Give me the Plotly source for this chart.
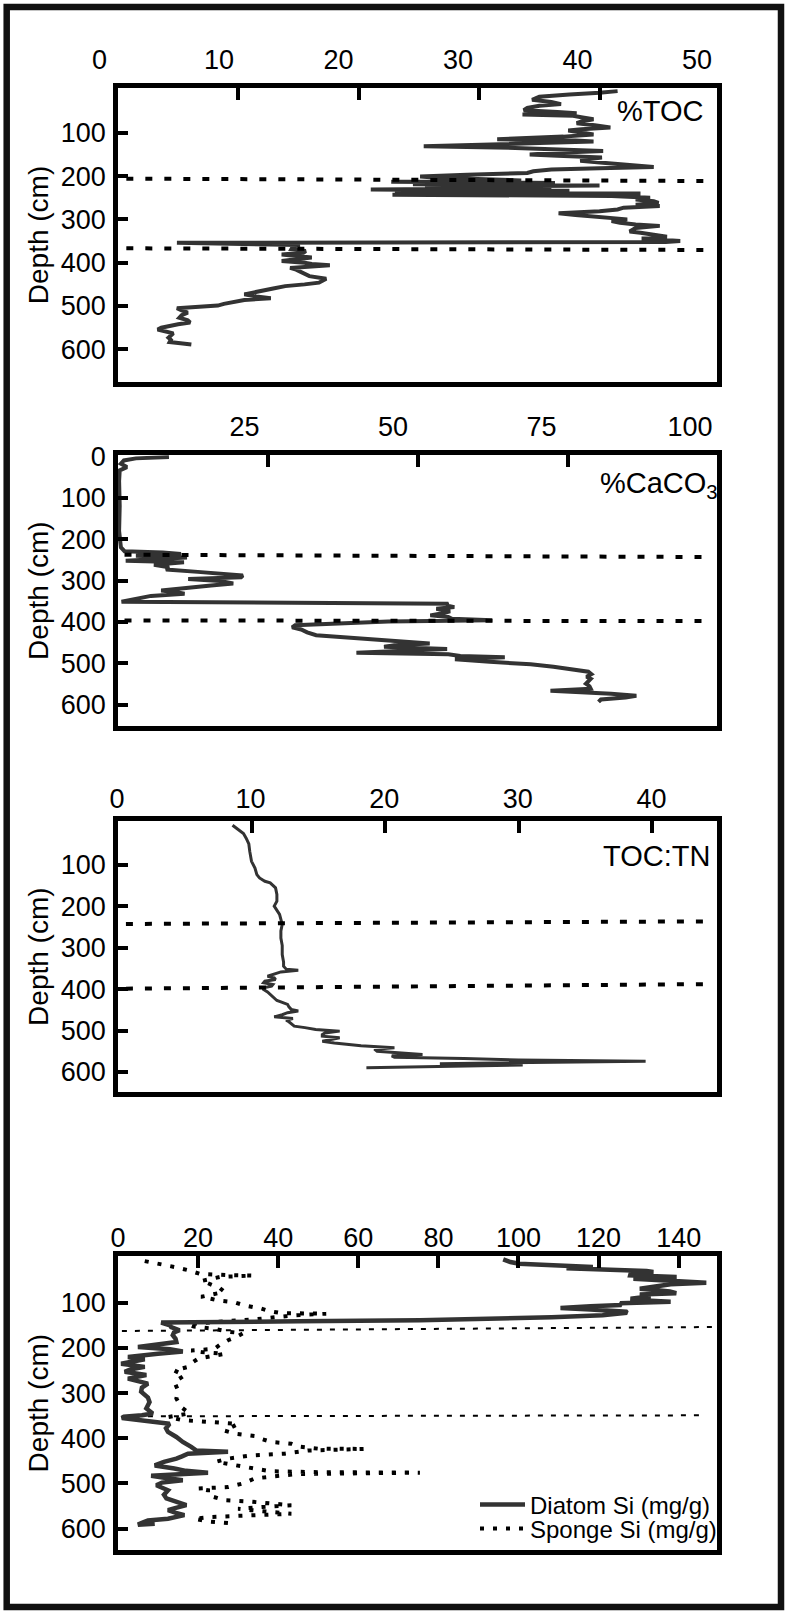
import plotly.graph_objects as go

W, H = 790, 1613
FONT = "Liberation Sans"
LINE_C = "#333333"

# ---------------- data ----------------
# Panel 1: %TOC
toc_depth = [4, 8, 12, 17, 24, 29, 34, 38, 43, 48, 52, 55, 58, 61, 65, 69, 74, 78, 83, 88,
             92, 95, 100, 104, 109, 113, 115, 118, 120, 124, 128, 131, 135, 139, 142, 146, 150,
             153, 157, 161, 165, 170, 175, 179, 182, 185, 189, 193, 197, 201, 204, 207, 210,
             213, 216, 219, 222, 225, 228, 231, 234, 237, 240, 243, 246, 250, 254, 258, 262,
             266, 269, 273, 277, 281, 286, 290, 294, 297, 300, 304, 308, 312, 315, 320, 324,
             328, 331, 336, 340, 344, 347, 350, 352, 354, 359, 364, 369, 373, 377, 381, 385,
             388, 392, 396, 400, 403, 406, 409, 412, 416, 420, 426, 431, 437, 442, 446, 450,
             454, 459, 463, 468, 473, 478, 482, 486, 491, 495, 499, 502, 505, 510, 515, 521,
             527, 533, 538, 542, 546, 550, 554, 558, 563, 568, 573, 578, 583, 586, 589]
toc_value = [41.5, 40.0, 37.5, 35.0, 34.4, 36.0, 36.8, 35.0, 34.0, 33.7, 36.5, 38.1, 33.6, 37.8,
             38.6, 39.5, 38.5, 38.1, 39.6, 40.9, 38.5, 37.4, 38.6, 39.5, 37.0, 34.0, 31.5, 38.0,
             39.5, 35.0, 30.0, 25.4, 33.0, 38.5, 40.3, 36.5, 34.2, 36.5, 40.2, 39.0, 38.4, 40.5,
             43.0, 44.5, 40.0, 36.0, 34.5, 34.0, 29.0, 25.1, 26.5, 31.0, 33.5, 22.7, 36.3, 24.5,
             40.0, 25.5, 36.0, 21.0, 37.5, 23.0, 43.4, 22.8, 41.0, 44.2, 43.0, 44.5, 44.9, 43.0,
             45.0, 42.0, 41.5, 40.0, 36.6, 38.0, 40.0, 41.0, 42.3, 41.0, 41.7, 43.0, 45.0, 43.0,
             42.8, 42.5, 43.4, 44.5, 45.6, 43.5, 45.0, 46.7, 45.5, 4.9, 15.1, 14.5, 14.4, 15.6,
             15.4, 13.6, 15.0, 16.1, 14.8, 13.6, 15.5, 16.1, 17.6, 15.0, 14.3, 14.8, 15.1, 15.5,
             15.9, 17.3, 17.0, 16.7, 15.5, 13.9, 13.0, 12.2, 11.2, 10.5, 11.5, 12.7, 10.5, 9.3,
             8.8, 8.3, 6.5, 4.9, 5.3, 5.8, 5.3, 5.1, 5.8, 6.0, 5.0, 4.2, 3.6, 3.3, 3.9, 4.6, 4.4,
             4.2, 4.4, 4.3, 5.2, 6.1]

# Panel 2: %CaCO3
caco3_depth = [2, 5, 10, 18, 26, 34, 60, 120, 180, 220, 229, 232, 236, 240, 244, 248, 252, 256,
               262, 268, 273, 279, 284, 288, 292, 296, 301, 307, 312, 316, 321, 324, 329, 332,
               337, 344, 348, 351, 356, 360, 364, 368, 374, 379, 384, 388, 392, 396, 399, 408,
               413, 418, 425, 432, 436, 440, 446, 452, 456, 460, 465, 470, 474, 478, 482, 485,
               490, 496, 502, 508, 513, 520, 526, 532, 537, 543, 549, 555, 561, 566, 570, 573,
               578, 582, 587, 593]
caco3_value = [8.5, 3.0, 1.0, 0.5, 1.5, 0.3, 0.2, 0.3, 0.2, 0.5, 1.1, 7.5, 10.5, 3.0, 11.5, 5.5,
               1.3, 11.0, 6.0, 8.5, 8.0, 13.3, 17.5, 20.8, 20.5, 11.7, 17.0, 19.2, 15.5, 12.5,
               8.5, 7.2, 10.0, 11.1, 5.5, 3.4, 1.5, 0.6, 55.0, 54.7, 56.0, 53.0, 55.3, 54.0,
               52.0, 55.0, 55.6, 62.3, 45.0, 29.5, 29.0, 30.5, 31.5, 33.0, 37.0, 40.6, 44.5,
               51.9, 46.0, 44.3, 54.8, 48.0, 39.7, 55.0, 57.0, 64.4, 56.1, 61.9, 68.7, 72.5, 75.4,
               78.3, 78.8, 78.0, 78.7, 78.2, 77.9, 78.5, 78.7, 72.0, 80.0, 82.1, 86.3, 84.5, 80.4,
               80.0]

# Panel 3: TOC:TN
tn_depth = [5, 10, 16, 25, 36, 50, 68, 80, 92, 108, 124, 132, 140, 144, 156, 172, 188, 200, 210,
            220, 232, 244, 260, 277, 295, 317, 335, 345, 352, 354.5, 358.6, 364, 369, 373, 377,
            381, 385, 389, 393, 397, 401, 407, 413, 420, 427.6, 432, 437, 443, 449, 453, 457,
            462, 467, 471, 475, 479, 484, 489.5, 493, 497.5, 501.5, 506, 510, 513.6, 517.7, 522,
            526, 530, 533.6, 537, 541.7, 545, 550, 554, 558, 561, 564.4, 567.6, 571, 574, 576,
            578.5, 580, 583.4, 586, 589.8]
tn_value = [8.58, 8.8, 9.1, 9.4, 9.6, 9.8, 9.87, 9.95, 10.0, 10.26, 10.4, 10.6, 11.0, 11.4, 11.8,
            11.9, 11.9, 11.7, 11.9, 12.1, 12.2, 12.3, 12.2, 12.2, 12.3, 12.3, 12.4, 12.4, 12.6,
            13.5, 12.2, 11.6, 11.2, 11.7, 11.8, 11.0, 10.9, 11.6, 11.5, 10.9, 10.9, 11.2, 11.4,
            11.6, 11.9, 12.3, 12.7, 12.8, 12.97, 13.5, 12.7, 12.3, 11.7, 13.1, 12.6, 12.8, 13.0,
            13.2, 14.0, 14.8, 16.6, 15.5, 15.3, 15.3, 16.6, 15.8, 15.3, 16.2, 17.1, 18.2, 20.7,
            19.2, 19.4, 21.0, 22.8, 20.5, 20.7, 25.9, 30.0, 39.5, 33.0, 30.3, 24.1, 30.3, 25.0,
            18.6]

# Panel 4: biogenic silica
diatom_depth = [4, 10, 14, 16, 19, 21, 24, 27, 30, 32, 36, 39.5, 43, 47, 50, 53, 56, 59, 62, 66,
                69, 72, 75, 79, 82, 86, 91, 94, 98, 101, 105, 108, 112, 115, 117, 120, 122, 126,
                128, 132, 135, 139, 141, 143, 144, 150, 154, 161, 166, 172, 180, 187, 193, 198,
                203, 208, 213, 217, 220, 225, 230, 235, 242, 248, 253, 260, 268, 279, 288, 297,
                310, 320, 334, 345, 349, 352, 355, 358, 361, 368, 378, 386, 397, 408, 419, 427,
                430, 434, 440, 445, 452, 460, 467, 472, 476, 480, 483, 488, 493, 498, 504, 515,
                525, 533, 541, 548, 555, 559, 565, 570, 578, 582, 587, 591, 589]
diatom_value = [96.2, 98.0, 100.2, 105.2, 113.0, 118.6, 112.0, 126.0, 132.0, 133.7, 128.0, 127.9,
                139.5, 128.7, 136.0, 140.0, 146.9, 138.0, 136.1, 132.0, 130.3, 134.0, 137.8,
                139.4, 130.3, 133.0, 128.0, 129.4, 138.0, 125.4, 125.7, 118.0, 110.5, 118.0,
                123.7, 126.9, 127.1, 124.0, 121.0, 108.3, 91.3, 75.4, 45.0, 15.0, 10.8, 13.0,
                13.3, 15.4, 14.0, 13.7, 14.4, 14.6, 9.0, 5.0, 13.0, 16.2, 10.0, 4.0, 2.5, 6.7, 3.5,
                0.8, 6.7, 3.0, 1.7, 7.1, 2.5, 7.5, 6.0, 5.8, 7.5, 7.9, 7.1, 8.7, 6.0, 1.5, 1.0,
                4.0, 8.3, 12.9, 12.0, 12.5, 14.6, 16.2, 18.3, 19.6, 27.5, 17.5, 16.0, 14.6, 11.5,
                9.2, 14.1, 17.0, 22.5, 12.0, 8.3, 12.0, 16.2, 11.0, 9.6, 12.5, 11.5, 12.1, 14.5,
                17.1, 14.0, 12.5, 14.5, 16.6, 12.5, 7.5, 6.0, 5.0, 9.2]
sponge_depth = [8, 14, 21, 28, 36, 39, 40, 43, 47, 52, 57, 62, 68, 76, 82, 87, 92, 95, 99, 106,
                113, 119, 123, 123.5, 124.3, 128, 132, 137, 142, 148, 153, 158, 164, 168, 176,
                183, 193, 202, 206, 209, 213, 218, 224, 233, 242, 250, 261, 275, 294, 312, 331,
                345, 353, 360, 364, 368, 375, 383, 390, 395, 402, 408, 412, 418, 423, 423.5, 427,
                434, 438, 445, 452, 460, 467, 473, 475, 476, 479, 485, 489, 500, 508, 511, 515,
                526, 537, 540, 545, 548, 552, 556, 559, 563, 567, 574, 578, 584, 587, 589]
sponge_value = [6.7, 10.4, 14.1, 17.5, 20.4, 27.0, 33.7, 25.5, 23.0, 20.8, 22.5, 24.1, 25.5, 26.6,
                23.0, 20.8, 23.5, 25.0, 29.1, 31.6, 35.8, 38.0, 40.8, 46.0, 52.0, 44.0, 39.1,
                34.1, 25.0, 17.5, 19.0, 24.1, 27.5, 31.2, 29.5, 27.5, 25.5, 24.1, 18.3, 20.8, 26.6,
                23.0, 20.0, 18.5, 17.5, 14.1, 16.6, 14.1, 15.0, 14.6, 15.8, 17.9, 12.5, 16.2, 22.0,
                30.0, 28.5, 26.6, 29.5, 34.1, 36.0, 38.3, 43.3, 45.0, 50.0, 61.6, 47.4, 41.6, 33.3,
                27.5, 24.5, 29.1, 34.1, 38.3, 50.0, 75.4, 45.0, 38.0, 34.1, 31.2, 27.5, 20.0, 22.5,
                22.5, 26.6, 33.0, 40.0, 43.3, 36.0, 30.0, 33.3, 40.0, 43.3, 23.3, 19.1, 22.5, 26.6,
                29.5]

# zone boundaries (start/end value, start/end depth)
toc_bound_x = [0.7, 49.6]
toc_bound_upper = [206, 211.5]
toc_bound_lower = [366.8, 370.7]
caco3_bound_x = [1.1, 99.1]
caco3_bound_upper = [237.6, 243.2]
caco3_bound_lower = [396.2, 397.8]
tn_bound_x = [0.6, 44.6]
tn_bound_upper = [243, 236.7]
tn_bound_lower = [399, 388]
si_bound_upper_x = [1.0, 148.6]
si_bound_upper = [162.6, 153.8]
si_bound_lower_x = [1.0, 145.3]
si_bound_lower = [351.4, 349.2]

# axis ticks / labels
toc_ticks = [10, 20, 30, 40]
toc_labels = [0, 10, 20, 30, 40, 50]
caco3_ticks = [25, 50, 75]
caco3_labels = [25, 50, 75, 100]
tn_ticks = [10, 20, 30, 40]
tn_labels = [0, 10, 20, 30, 40]
si_ticks = [20, 40, 60, 80, 100, 120, 140]
si_labels = [0, 20, 40, 60, 80, 100, 120, 140]
depth_ticks = [100, 200, 300, 400, 500, 600]
depth_ticks_caco3 = [0, 100, 200, 300, 400, 500, 600]

# ---------------- layout geometry (pixels) ----------------
BOX_L, BOX_R = 117.9, 716.7
panels = [
    dict(top=88.0, bot=382.0, xr=[0, 49.73], yr=[675.3, -3.2], ticks=toc_ticks,
         labels=toc_labels, lab_a=99.4, lab_b=11.95, lab_pos=74, yticks=depth_ticks),
    dict(top=455.3, bot=726.0, xr=[0, 99.67], yr=[651.0, -2.4], ticks=caco3_ticks,
         labels=caco3_labels, lab_a=96.1, lab_b=5.94, lab_pos=441, yticks=depth_ticks_caco3),
    dict(top=821.3, bot=1092.0, xr=[0, 44.82], yr=[648.3, -4.6], ticks=tn_ticks,
         labels=tn_labels, lab_a=117.0, lab_b=13.36, lab_pos=813, yticks=depth_ticks),
    dict(top=1256.0, bot=1550.3, xr=[0, 149.5], yr=[647.8, -3.3], ticks=si_ticks,
         labels=si_labels, lab_a=118.0, lab_b=4.005, lab_pos=1252, yticks=depth_ticks),
]


def fx(p):
    return p / W


def fy(p):
    return 1 - p / H


fig = go.Figure()


def add_line(i, x, y, width, color, dash="solid", name=None, legend=None):
    sfx = "" if i == 1 else str(i)
    fig.add_trace(go.Scatter(
        x=x, y=y, mode="lines", xaxis="x" + sfx, yaxis="y" + sfx,
        line=dict(color=color, width=width, dash=dash),
        name=name, showlegend=name is not None, legend=legend, hoverinfo="skip"))


# panel 1
add_line(1, toc_value, toc_depth, 4, LINE_C)
add_line(1, toc_bound_x, toc_bound_upper, 4, "black", "7px,12px")
add_line(1, toc_bound_x, toc_bound_lower, 4, "black", "7px,12px")
# panel 2
add_line(2, caco3_value, caco3_depth, 4, LINE_C)
add_line(2, caco3_bound_x, caco3_bound_upper, 4, "black", "7px,12px")
add_line(2, caco3_bound_x, caco3_bound_lower, 4, "black", "7px,12px")
# panel 3
add_line(3, tn_value, tn_depth, 3, LINE_C)
add_line(3, tn_bound_x, tn_bound_upper, 4, "black", "7px,12px")
add_line(3, tn_bound_x, tn_bound_lower, 4, "black", "7px,12px")
# panel 4
add_line(4, si_bound_upper_x, si_bound_upper, 2, "black", "5px,8px")
add_line(4, si_bound_lower_x, si_bound_lower, 2, "black", "5px,8px")
add_line(4, sponge_value, sponge_depth, 4, "black", "4px,9px",
         name="Sponge Si (mg/g)", legend="legend2")
add_line(4, diatom_value, diatom_depth, 4.5, LINE_C,
         name="Diatom Si (mg/g)", legend="legend")

# dummy traces to register label axes
for i in range(1, 5):
    sfx = "" if i == 1 else str(i)
    fig.add_trace(go.Scatter(x=[None], y=[None], xaxis="x" + str(i + 4), yaxis="y" + sfx,
                             showlegend=False, hoverinfo="skip", mode="lines"))

tickfont = dict(family=FONT, size=27, color="black")
layout = dict(
    width=W, height=H, margin=dict(l=0, r=0, t=0, b=0, autoexpand=False),
    paper_bgcolor="white", plot_bgcolor="rgba(0,0,0,0)",
    font=dict(family=FONT, color="black"),
)

for i, p in enumerate(panels, start=1):
    sfx = "" if i == 1 else str(i)
    layout["xaxis" + sfx] = dict(
        domain=[fx(BOX_L), fx(BOX_R)], range=p["xr"], anchor="y" + sfx, side="top",
        tickvals=p["ticks"], ticks="inside", ticklen=12, tickwidth=3.5, tickcolor="black",
        showticklabels=False, showline=True, linewidth=4.5, linecolor="black", mirror=True,
        showgrid=False, zeroline=False, fixedrange=True)
    layout["yaxis" + sfx] = dict(
        domain=[fy(p["bot"]), fy(p["top"])], range=p["yr"], anchor="x" + sfx,
        tickvals=p["yticks"], ticks="inside", ticklen=10, tickwidth=4, tickcolor="black",
        showline=True, linewidth=4.5, linecolor="black", mirror=True, showgrid=False,
        zeroline=False, tickfont=tickfont, ticklabelstandoff=2, fixedrange=True,
        title=dict(text="Depth (cm)", font=dict(family=FONT, size=28, color="black"),
                   standoff=5))
    a, b = p["lab_a"], p["lab_b"]
    layout["xaxis" + str(i + 4)] = dict(
        domain=[0, 1], range=[(0 - a) / b, (W - a) / b], anchor="free",
        position=fy(p["lab_pos"]), side="top", tickvals=p["labels"], ticks="",
        showline=False, showgrid=False, zeroline=False, tickfont=tickfont, fixedrange=True)

legend_font = dict(family=FONT, size=24, color="black")
layout["legend"] = dict(x=fx(475), y=fy(1505), xanchor="left", yanchor="middle",
                        font=legend_font, itemwidth=45,
                        bgcolor="rgba(0,0,0,0)", borderwidth=0)
layout["legend2"] = dict(x=fx(475), y=fy(1529), xanchor="left", yanchor="middle",
                         font=legend_font, itemwidth=45,
                         bgcolor="rgba(0,0,0,0)", borderwidth=0)

ann_font = dict(family=FONT, size=29, color="black")
layout["annotations"] = [
    dict(text="%TOC", xref="paper", yref="paper", x=fx(615), y=fy(111.5), xanchor="left",
         yanchor="middle", showarrow=False, font=ann_font),
    dict(text="%CaCO<sub>3</sub>", xref="paper", yref="paper", x=fx(598), y=fy(485),
         xanchor="left", yanchor="middle", showarrow=False, font=ann_font),
    dict(text="TOC:TN", xref="paper", yref="paper", x=fx(601), y=fy(856.3), xanchor="left",
         yanchor="middle", showarrow=False, font=ann_font),
]
layout["shapes"] = [
    dict(type="rect", xref="paper", yref="paper", x0=fx(6.7), x1=fx(781), y0=fy(1607),
         y1=fy(7), line=dict(color="#111111", width=6.5), fillcolor="rgba(0,0,0,0)"),
]

fig.update_layout(**layout)
fig.write_html(
    "out.html",
    config={"displayModeBar": False, "staticPlot": False},
    post_script="document.body.style.margin='0px';document.body.style.padding='0px';"
                "document.documentElement.style.margin='0px';",
)
